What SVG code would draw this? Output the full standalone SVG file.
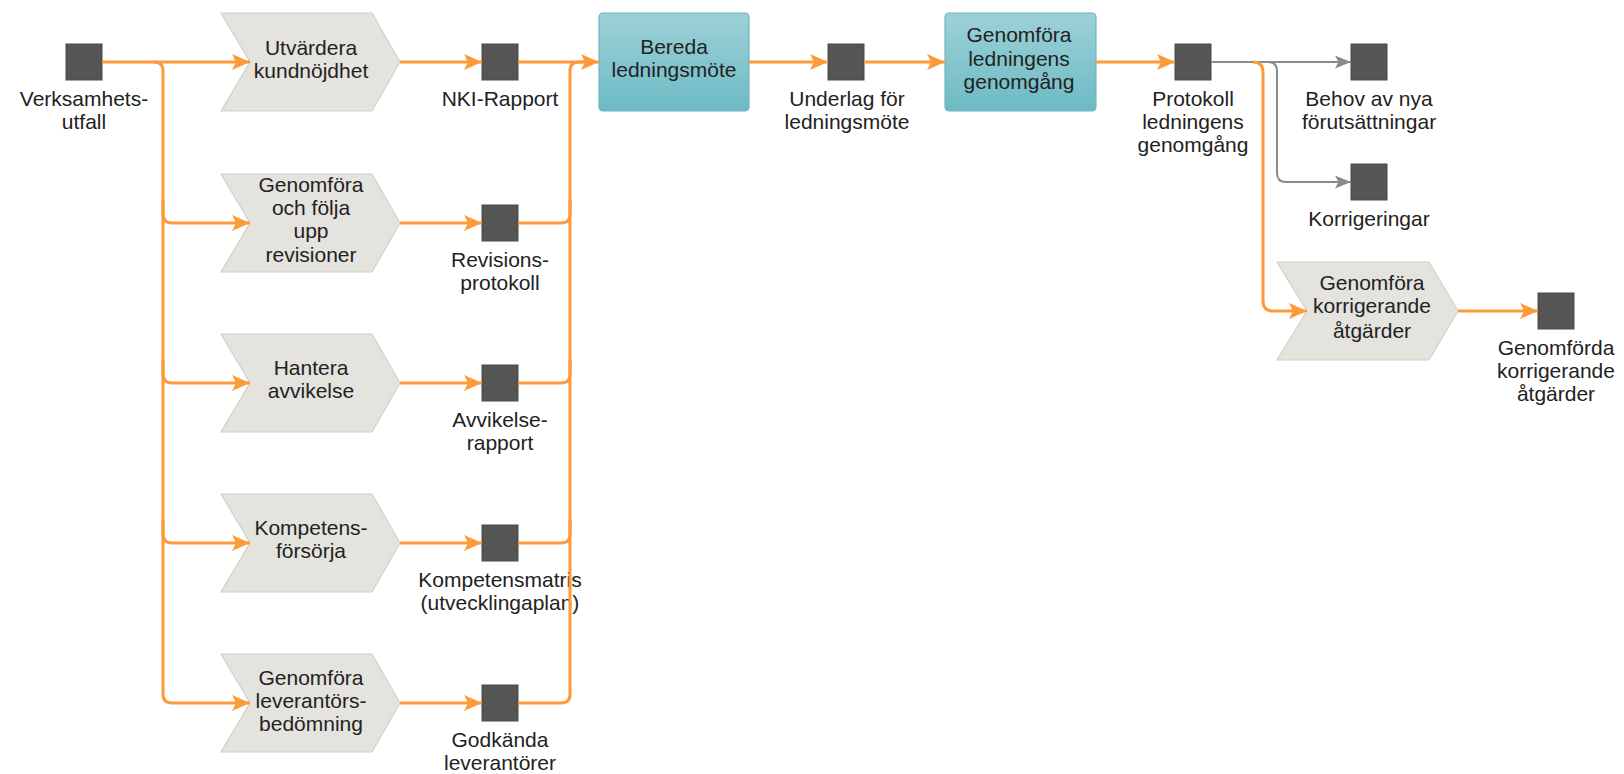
<svg xmlns="http://www.w3.org/2000/svg" width="1624" height="774" viewBox="0 0 1624 774">
<style>
.t{font-family:"Liberation Sans",Arial,sans-serif;font-size:21px;fill:#222;text-anchor:middle}
.sq{fill:#555;stroke:#4a4a4a;stroke-width:1}
.ch{fill:#e4e3de;stroke:#d3d1c6;stroke-width:1.2}
.bx{fill:url(#teal);stroke:#6fb6bf;stroke-width:1.2}
.o{fill:none;stroke:#fd9a3a;stroke-width:3}
.g{fill:none;stroke:#8a8a8a;stroke-width:2}
</style>
<defs>
<linearGradient id="teal" x1="0" y1="0" x2="0" y2="1">
<stop offset="0" stop-color="#9dd1d7"/>
<stop offset="1" stop-color="#6dbac4"/>
</linearGradient>
<marker id="ao" markerUnits="userSpaceOnUse" markerWidth="18" markerHeight="16" viewBox="0 0 18 16" refX="18" refY="8" orient="auto">
<path d="M0,0 L18,8 L0,16 L4,8 Z" fill="#fd9a3a"/>
</marker>
<marker id="ag" markerUnits="userSpaceOnUse" markerWidth="16" markerHeight="13" viewBox="0 0 16 13" refX="16" refY="6.5" orient="auto">
<path d="M0,0 L16,6.5 L0,13 L3.5,6.5 Z" fill="#8a8a8a"/>
</marker>
</defs>

<g id="n-verksamhet"><rect class="sq" x="66" y="44" width="36" height="36"/><text class="t" x="84" y="106">Verksamhets-</text><text class="t" x="84" y="129">utfall</text></g>

<g id="p-kundnojdhet"><path class="ch" d="M221,13 L372,13 L400,62 L372,111 L221,111 L250,62 Z"/><text class="t" x="311" y="55">Utvärdera</text><text class="t" x="311" y="78">kundnöjdhet</text></g>
<g id="p-revisioner"><path class="ch" d="M221,174 L372,174 L400,223 L372,272 L221,272 L250,223 Z"/><text class="t" x="311" y="192">Genomföra</text><text class="t" x="311" y="215">och följa</text><text class="t" x="311" y="238">upp</text><text class="t" x="311" y="262">revisioner</text></g>
<g id="p-avvikelse"><path class="ch" d="M221,334 L372,334 L400,383 L372,432 L221,432 L250,383 Z"/><text class="t" x="311" y="375">Hantera</text><text class="t" x="311" y="398">avvikelse</text></g>
<g id="p-kompetens"><path class="ch" d="M221,494 L372,494 L400,543 L372,592 L221,592 L250,543 Z"/><text class="t" x="311" y="535">Kompetens-</text><text class="t" x="311" y="558">försörja</text></g>
<g id="p-leverantor"><path class="ch" d="M221,654 L372,654 L400,703 L372,752 L221,752 L250,703 Z"/><text class="t" x="311" y="685">Genomföra</text><text class="t" x="311" y="708">leverantörs-</text><text class="t" x="311" y="731">bedömning</text></g>

<g id="n-nki"><rect class="sq" x="482" y="44" width="36" height="36"/><text class="t" x="500" y="106">NKI-Rapport</text></g>
<g id="n-revprot"><rect class="sq" x="482" y="205" width="36" height="36"/><text class="t" x="500" y="267">Revisions-</text><text class="t" x="500" y="290">protokoll</text></g>
<g id="n-avvrapport"><rect class="sq" x="482" y="365" width="36" height="36"/><text class="t" x="500" y="427">Avvikelse-</text><text class="t" x="500" y="450">rapport</text></g>
<g id="n-kompmatris"><rect class="sq" x="482" y="525" width="36" height="36"/><text class="t" x="500" y="587">Kompetensmatris</text><text class="t" x="500" y="610">(utvecklingaplan)</text></g>
<g id="n-godkanda"><rect class="sq" x="482" y="685" width="36" height="36"/><text class="t" x="500" y="747">Godkända</text><text class="t" x="500" y="770">leverantörer</text></g>

<g id="p-bereda"><rect class="bx" x="599" y="13" width="150" height="98" rx="4"/><text class="t" x="674" y="54">Bereda</text><text class="t" x="674" y="77">ledningsmöte</text></g>
<g id="n-underlag"><rect class="sq" x="828" y="44" width="36" height="36"/><text class="t" x="847" y="106">Underlag för</text><text class="t" x="847" y="129">ledningsmöte</text></g>
<g id="p-genomgang"><rect class="bx" x="945" y="13" width="151" height="98" rx="4"/><text class="t" x="1019" y="42">Genomföra</text><text class="t" x="1019" y="66">ledningens</text><text class="t" x="1019" y="89">genomgång</text></g>
<g id="n-protokoll"><rect class="sq" x="1175" y="44" width="36" height="36"/><text class="t" x="1193" y="106">Protokoll</text><text class="t" x="1193" y="129">ledningens</text><text class="t" x="1193" y="152">genomgång</text></g>
<g id="n-behov"><rect class="sq" x="1351" y="44" width="36" height="36"/><text class="t" x="1369" y="106">Behov av nya</text><text class="t" x="1369" y="129">förutsättningar</text></g>
<g id="n-korrigeringar"><rect class="sq" x="1351" y="164" width="36" height="36"/><text class="t" x="1369" y="226">Korrigeringar</text></g>
<g id="p-korrigerande"><path class="ch" d="M1277,262 L1429,262 L1458,311 L1429,360 L1277,360 L1307,311 Z"/><text class="t" x="1372" y="290">Genomföra</text><text class="t" x="1372" y="313">korrigerande</text><text class="t" x="1372" y="338">åtgärder</text></g>
<g id="n-genomforda"><rect class="sq" x="1538" y="293" width="36" height="36"/><text class="t" x="1556" y="355">Genomförda</text><text class="t" x="1556" y="378">korrigerande</text><text class="t" x="1556" y="401">åtgärder</text></g>

<g id="connectors">
<path class="o" d="M102,62 L250,62" marker-end="url(#ao)"/>
<path class="o" d="M154,62 Q163,62 163,71 L163,214 Q163,223 172,223 L250,223" marker-end="url(#ao)"/>
<path class="o" d="M163,200 L163,374 Q163,383 172,383 L250,383" marker-end="url(#ao)"/>
<path class="o" d="M163,360 L163,534 Q163,543 172,543 L250,543" marker-end="url(#ao)"/>
<path class="o" d="M163,520 L163,694 Q163,703 172,703 L250,703" marker-end="url(#ao)"/>

<path class="o" d="M400,62 L482,62" marker-end="url(#ao)"/>
<path class="o" d="M400,223 L482,223" marker-end="url(#ao)"/>
<path class="o" d="M400,383 L482,383" marker-end="url(#ao)"/>
<path class="o" d="M400,543 L482,543" marker-end="url(#ao)"/>
<path class="o" d="M400,703 L482,703" marker-end="url(#ao)"/>

<path class="o" d="M518,62 L599,62" marker-end="url(#ao)"/>
<path class="o" d="M518,223 L561,223 Q570,223 570,214 L570,71 Q570,62 579,62 L590,62"/>
<path class="o" d="M518,383 L561,383 Q570,383 570,374 L570,200"/>
<path class="o" d="M518,543 L561,543 Q570,543 570,534 L570,360"/>
<path class="o" d="M518,703 L561,703 Q570,703 570,694 L570,520"/>

<path class="o" d="M749,62 L828,62" marker-end="url(#ao)"/>
<path class="o" d="M864,62 L945,62" marker-end="url(#ao)"/>
<path class="o" d="M1096,62 L1175,62" marker-end="url(#ao)"/>

<path class="g" d="M1211,62 L1351,62" marker-end="url(#ag)"/>
<path class="g" d="M1268,62 Q1277,62 1277,71 L1277,173 Q1277,182 1286,182 L1351,182" marker-end="url(#ag)"/>
<path class="o" d="M1253,62 Q1263,62 1263,72 L1263,301 Q1263,311 1273,311 L1307,311" marker-end="url(#ao)"/>
<path class="o" d="M1458,311 L1538,311" marker-end="url(#ao)"/>
</g>
</svg>
